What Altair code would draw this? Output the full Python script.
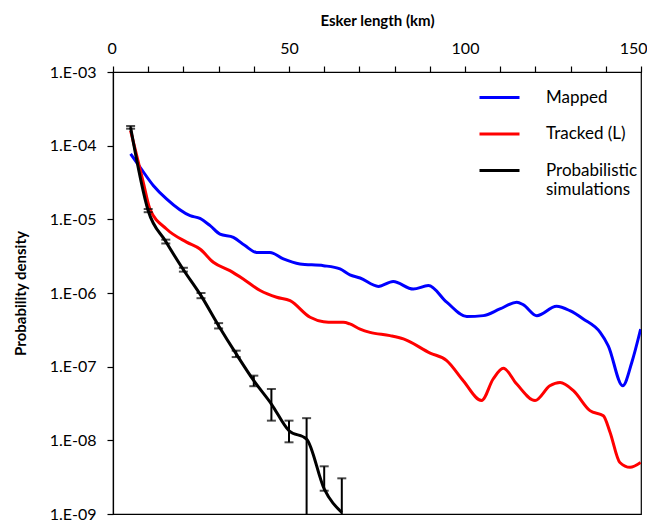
import altair as alt
import pandas as pd

# ---- data ----
mapped_x = [5.0, 7.7, 11.5, 15.2, 21.9, 24.7, 27.6, 30.4, 34.2, 37.5, 40.8, 44.6, 48.4, 53.1,
            59.8, 64.5, 67.3, 70.2, 75.4, 79.6, 85.3, 89.6, 94.8, 100.5, 105.2, 109.9, 114.7,
            116.6, 120.4, 126.0, 129.8, 133.6, 138.4, 140.7, 144.8, 147.4, 149.9]
mapped_y = [7.71e-5, 5.08e-5, 2.86e-5, 1.89e-5, 1.12e-5, 1.03e-5, 8.2e-6, 6.3e-6, 5.7e-6, 4.4e-6,
            3.56e-6, 3.56e-6, 2.9e-6, 2.48e-6, 2.35e-6, 2.12e-6, 1.76e-6, 1.6e-6, 1.23e-6, 1.43e-6,
            1.13e-6, 1.26e-6, 7.5e-7, 4.8e-7, 4.93e-7, 6.07e-7, 7.5e-7, 6.9e-7, 4.93e-7, 6.6e-7,
            5.75e-7, 4.44e-7, 2.92e-7, 1.92e-7, 5.5e-8, 1.15e-7, 3.24e-7]

tracked_x = [5.0, 8.6, 10.5, 15.2, 20.9, 24.7, 28.5, 33.2, 37.0, 41.8, 46.5, 50.3, 56.0, 59.8,
             62.6, 65.4, 67.3, 70.2, 73.0, 78.7, 82.5, 90.1, 94.8, 99.5, 104.7, 108.0, 110.9,
             114.7, 119.9, 124.1, 127.0, 130.8, 135.5, 139.3, 141.2, 144.0, 146.9, 149.9]
tracked_y = [1.6e-4, 3.18e-5, 1.38e-5, 7.4e-6, 4.9e-6, 3.95e-6, 2.61e-6, 2.01e-6, 1.55e-6, 1.08e-6,
             8.75e-7, 7.87e-7, 4.68e-7, 4.07e-7, 4.0e-7, 4.0e-7, 3.8e-7, 3.24e-7, 2.92e-7, 2.64e-7,
             2.38e-7, 1.53e-7, 1.21e-7, 6.45e-8, 3.47e-8, 6.8e-8, 9.5e-8, 5.8e-8, 3.47e-8, 5.5e-8,
             6.1e-8, 4.73e-8, 2.53e-8, 2.16e-8, 1.29e-8, 5.0e-9, 4.3e-9, 5.0e-9]

sim_x = [5, 10, 15, 20, 25, 30, 35, 40, 45, 50, 55, 60, 65]
sim_y = [1.77e-4, 1.31e-5, 5.0e-6, 2.07e-6, 9.2e-7, 3.6e-7, 1.49e-7, 6.45e-8, 3.11e-8, 1.35e-8,
         1.04e-8, 2.19e-9, 1.05e-9]
sim_hi = [1.85e-4, 1.38e-5, 5.3e-6, 2.2e-6, 1.0e-6, 3.9e-7, 1.65e-7, 7.55e-8, 4.98e-8, 1.85e-8,
          2.0e-8, 4.44e-9, 3.05e-9]
sim_lo = [1.7e-4, 1.25e-5, 4.7e-6, 1.95e-6, 8.5e-7, 3.3e-7, 1.35e-7, 5.43e-8, 1.85e-8, 9.4e-9,
          1e-10, 2.07e-9, 1e-10]

series_names = ["Mapped", "Tracked (L)", "Probabilistic simulations"]
series_colors = ["#0000ff", "#ff0000", "#000000"]
x_ticks = list(range(0, 151, 10))
y_ticks = [1e-9, 1e-8, 1e-7, 1e-6, 1e-5, 1e-4, 1e-3]

lines = pd.concat([
    pd.DataFrame({"series": series_names[0], "x": mapped_x, "y": mapped_y}),
    pd.DataFrame({"series": series_names[1], "x": tracked_x, "y": tracked_y}),
    pd.DataFrame({"series": series_names[2], "x": sim_x, "y": sim_y}),
], ignore_index=True)
errs = pd.DataFrame({"x": sim_x, "lo": sim_lo, "hi": sim_hi})

FONT = "Lato"

xaxis = alt.Axis(orient="top", title="Esker length (km)", values=x_ticks,
                 labelExpr="datum.value % 50 == 0 ? datum.label : ''",
                 labelFlush=True, labelFlushOffset=6, labelOverlap=False, grid=False,
                 tickSize=6, labelPadding=10, titlePadding=12)
xscale = alt.Scale(domain=[0, 150], nice=False)
yscale = alt.Scale(type="log", domain=[1e-9, 1e-3], nice=False)
yaxis = alt.Axis(title="Probability density", values=y_ticks, grid=False,
                 labelExpr="'1.E-0' + (-round(log(datum.value)/LN10))",
                 tickSize=6, labelPadding=11, titlePadding=21)

line_layer = alt.Chart(lines).mark_line(strokeWidth=3, interpolate="monotone", clip=True).encode(
    x=alt.X("x:Q", scale=xscale, axis=xaxis),
    y=alt.Y("y:Q", scale=yscale, axis=yaxis),
    color=alt.Color("series:N", sort=series_names,
                    scale=alt.Scale(domain=series_names, range=series_colors),
                    legend=alt.Legend(title=None, orient="none", legendX=365, legendY=4,
                                      symbolType="stroke", symbolSize=1600, symbolStrokeWidth=3,
                                      labelFontSize=17, labelFont=FONT, labelOffset=25,
                                      rowPadding=6.5, labelLimit=200, labelColor="black",
                                      labelExpr="datum.label == 'Probabilistic simulations' ? ['Probabilistic', 'simulations'] : datum.label")),
    detail="series:N",
)

err_rule = alt.Chart(errs).mark_rule(color="black", strokeWidth=2, clip=True).encode(
    x=alt.X("x:Q", scale=xscale, axis=xaxis),
    y=alt.Y("lo:Q", scale=yscale, axis=yaxis), y2="hi:Q")
cap_lo = alt.Chart(errs).mark_tick(color="black", thickness=2, size=9, orient="horizontal", clip=True).encode(
    x=alt.X("x:Q", scale=xscale, axis=xaxis),
    y=alt.Y("lo:Q", scale=yscale, axis=yaxis))
cap_hi = alt.Chart(errs).mark_tick(color="black", thickness=2, size=9, orient="horizontal", clip=True).encode(
    x=alt.X("x:Q", scale=xscale, axis=xaxis),
    y=alt.Y("hi:Q", scale=yscale, axis=yaxis))

chart = alt.layer(line_layer, err_rule, cap_lo, cap_hi).properties(
    width=528, height=442, background="white",
    padding={"left": 5, "top": 5, "right": 0, "bottom": 5}
).configure_view(stroke="black", strokeWidth=1.2).configure_axis(
    labelFont=FONT, titleFont=FONT, labelFontSize=16, titleFontSize=15, titleFontWeight="bold",
    labelColor="black", titleColor="black", domainColor="black", tickColor="black",
    domainWidth=1.2, tickWidth=1.2
)

chart.save("out.html", embed_options={"renderer": "svg", "actions": False})
